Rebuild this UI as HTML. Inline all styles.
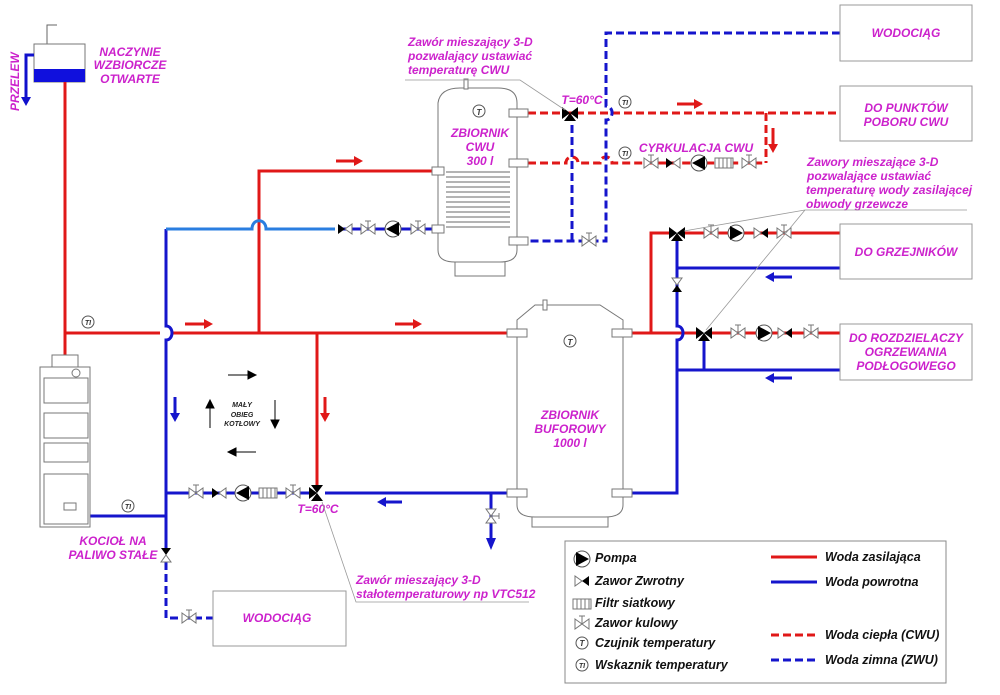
<!DOCTYPE html>
<html><head><meta charset="utf-8"><style>
html,body{margin:0;padding:0;background:#fff;}
svg{display:block;}
text{font-family:"Liberation Sans",sans-serif;font-style:italic;font-weight:bold;}
.m{fill:#cc22cc;font-size:12px;}
.k{fill:#111;font-size:12.5px;}
</style></head><body>
<svg width="1000" height="695" viewBox="0 0 1000 695" xmlns="http://www.w3.org/2000/svg">
<defs>
<g id="bv"><path d="M-7,-5 L7,5 L7,-5 L-7,5 Z" fill="#fff" stroke="#777" stroke-width="1"/><path d="M0,0 V-8 M-3,-8 H3" stroke="#777" stroke-width="1"/></g>
<g id="cvL"><path d="M0,0 L7,-5 V5 Z" fill="#fff" stroke="#777"/><path d="M0,0 L-7,-5 V5 Z" fill="#000"/></g>
<g id="cvR"><path d="M0,0 L-7,-5 V5 Z" fill="#fff" stroke="#777"/><path d="M0,0 L7,-5 V5 Z" fill="#000"/></g>
<g id="pL"><circle r="8" fill="#fff" stroke="#555"/><path d="M-7,0 L6,-7 V7 Z" fill="#000"/></g>
<g id="pR"><circle r="8" fill="#fff" stroke="#555"/><path d="M7,0 L-6,-7 V7 Z" fill="#000"/></g>
<g id="fl"><rect x="-9" y="-5" width="18" height="10" fill="#fff" stroke="#777"/><path d="M-5,-5V5M-1,-5V5M3,-5V5M7,-5V5" stroke="#777"/></g>
<g id="mv"><path d="M-8,-6 L0,0 L-8,6 Z M8,-6 L0,0 L8,6 Z M-6,8 L0,0 L6,8 Z" fill="#000"/></g>
</defs>

<!-- expansion vessel -->
<path d="M47,44 V25 H57" fill="none" stroke="#666" stroke-width="1"/>
<rect x="34" y="44" width="51" height="38" fill="#fff" stroke="#777"/>
<rect x="34" y="69" width="51" height="13" fill="#1010dd"/>
<path d="M34,55 H26 V100" fill="none" stroke="#1010cc" stroke-width="3"/>
<path d="M21,97 L26,106 L31,97 Z" fill="#1010cc"/>
<text class="m" transform="translate(19,111) rotate(-90)">PRZELEW</text>
<text class="m" x="130" y="56" text-anchor="middle">NACZYNIE</text>
<text class="m" x="130" y="69" text-anchor="middle">WZBIORCZE</text>
<text class="m" x="130" y="83" text-anchor="middle">OTWARTE</text>

<!-- main red -->
<g stroke="#e01818" stroke-width="3" fill="none">
<path d="M65,82 V356"/>
<path d="M65,333 H160 M172,333 H508"/>
<path d="M259,333 V171 H433"/>
<path d="M317,333 V488"/>
<path d="M632,333 H697 M712,333 H840"/>
<path d="M651,333 V233 H670 M685,233 H840"/>
</g>
<!-- red arrows -->
<g fill="#e01818">
<path d="M185,324 H205" stroke="#e01818" stroke-width="3"/><path d="M204,319 L213,324 L204,329Z"/>
<path d="M395,324 H414" stroke="#e01818" stroke-width="3"/><path d="M413,319 L422,324 L413,329Z"/>
<path d="M336,161 H355" stroke="#e01818" stroke-width="3"/><path d="M354,156 L363,161 L354,166Z"/>
<path d="M677,104 H695" stroke="#e01818" stroke-width="3"/><path d="M694,99 L703,104 L694,109Z"/>
<path d="M325,397 V414" stroke="#e01818" stroke-width="3"/><path d="M320,413 L325,422 L330,413Z"/>
<path d="M773,128 V145" stroke="#e01818" stroke-width="3"/><path d="M768,144 L773,153 L778,144Z"/>
</g>

<!-- blue solid -->
<g stroke="#1515cc" stroke-width="3" fill="none">
<path d="M166,229 V326 C174,326 174,340 166,340 V550"/>
<path d="M166,229 H252 C252,218 266,218 266,229 H335" stroke="#2a7ee0"/>
<path d="M340,229 H437"/>
<path d="M90,516 H166"/>
<path d="M166,493 H311 M325,493 H508"/>
<path d="M491,493 V545"/>
<path d="M632,493 H677 V340 C685,340 685,326 677,326 V241"/>
<path d="M677,268 H840"/>
<path d="M677,370 H840 M704,340 V370"/>
</g>
<g fill="#1515cc">
<path d="M175,397 V414" stroke="#1515cc" stroke-width="3"/><path d="M170,413 L175,422 L180,413Z"/>
<path d="M491,538 L486,538 L491,550 L496,538Z"/>
<path d="M385,502 H402" stroke="#1515cc" stroke-width="3"/><path d="M386,497 L377,502 L386,507Z"/>
<path d="M773,277 H792" stroke="#1515cc" stroke-width="3"/><path d="M774,272 L765,277 L774,282Z"/>
<path d="M773,378 H792" stroke="#1515cc" stroke-width="3"/><path d="M774,373 L765,378 L774,383Z"/>
</g>

<!-- dashed -->
<g stroke="#e01818" stroke-width="3" fill="none" stroke-dasharray="8,4">
<path d="M528,113 H840"/>
<path d="M766,113 V163"/>
<path d="M528,163 H566 C566,155 578,155 578,163 H600 C600,155 612,155 612,163 H766"/>
</g>
<g stroke="#1515cc" stroke-width="3" fill="none" stroke-dasharray="8,4">
<path d="M840,33 H606 V106 C614,106 614,120 606,120 V241 H528"/>
<path d="M572,241 V118"/>
<path d="M166,562 V618 H213"/>
</g>

<!-- CWU tank -->
<path d="M438,250 V103 Q440,88 460,88 H498 Q517,88 517,103 V250 Q517,262 500,262 H455 Q438,262 438,250 Z" fill="#fff" stroke="#777"/>
<path d="M455,262 V276 H505 V262" fill="none" stroke="#777"/>
<rect x="464" y="79" width="4" height="10" fill="#fff" stroke="#777"/>
<g stroke="#888" fill="none" stroke-width="1.3">
<path d="M446,172 H510 M446,177 H510 M446,182 H510 M446,187 H510 M446,192 H510 M446,197 H510 M446,202 H510 M446,207 H510 M446,212 H510 M446,217 H510 M446,222 H510 M446,227 H510"/>
</g>
<g fill="#fff" stroke="#777">
<rect x="432" y="167" width="12" height="8"/><rect x="432" y="225" width="12" height="8"/>
<rect x="509" y="109" width="19" height="8"/><rect x="509" y="159" width="19" height="8"/><rect x="509" y="237" width="19" height="8"/>
</g>
<circle cx="479" cy="111" r="6" fill="#fff" stroke="#555"/><text x="479" y="115" font-size="8" text-anchor="middle" fill="#333">T</text>
<text class="m" x="480" y="137" text-anchor="middle">ZBIORNIK</text>
<text class="m" x="480" y="151" text-anchor="middle">CWU</text>
<text class="m" x="480" y="165" text-anchor="middle">300 l</text>

<!-- buffer tank -->
<path d="M517,320 L535,305 H600 L623,320 V505 Q623,517 605,517 H535 Q517,517 517,505 Z" fill="#fff" stroke="#777"/>
<path d="M532,517 V527 H608 V517" fill="none" stroke="#777"/>
<rect x="543" y="300" width="4" height="10" fill="#fff" stroke="#777"/>
<g fill="#fff" stroke="#777">
<rect x="507" y="329" width="20" height="8"/><rect x="612" y="329" width="20" height="8"/>
<rect x="507" y="489" width="20" height="8"/><rect x="612" y="489" width="20" height="8"/>
</g>
<circle cx="570" cy="341" r="6" fill="#fff" stroke="#555"/><text x="570" y="345" font-size="8" text-anchor="middle" fill="#333">T</text>
<text class="m" x="570" y="419" text-anchor="middle">ZBIORNIK</text>
<text class="m" x="570" y="433" text-anchor="middle">BUFOROWY</text>
<text class="m" x="570" y="447" text-anchor="middle">1000 l</text>

<!-- boiler -->
<rect x="52" y="355" width="26" height="12" fill="#fff" stroke="#777"/>
<rect x="40" y="367" width="50" height="160" fill="#fff" stroke="#777"/>
<circle cx="76" cy="373" r="4" fill="#fff" stroke="#777"/>
<g fill="none" stroke="#777"><rect x="44" y="378" width="44" height="25"/><rect x="44" y="413" width="44" height="25"/><rect x="44" y="443" width="44" height="19"/><rect x="44" y="474" width="44" height="50"/><rect x="64" y="503" width="12" height="7"/></g>

<!-- valves on lines -->
<use href="#cvL" x="345" y="229"/><use href="#bv" x="368" y="229"/><use href="#pL" x="393" y="229"/><use href="#bv" x="418" y="229"/>
<use href="#mv" x="570" y="113"/>
<use href="#bv" x="651" y="163"/><use href="#cvL" x="673" y="163"/><use href="#pL" x="699" y="163"/><use href="#fl" x="724" y="163"/><use href="#bv" x="749" y="163"/>
<use href="#bv" x="589" y="241"/>
<use href="#mv" x="677" y="233"/><use href="#bv" x="711" y="233"/><use href="#pR" x="736" y="233"/><use href="#cvR" x="761" y="233"/><use href="#bv" x="784" y="233"/>
<g transform="translate(677,285) rotate(90)"><use href="#cvR"/></g>
<use href="#mv" x="704" y="333"/><use href="#bv" x="738" y="333"/><use href="#pR" x="764" y="333"/><use href="#cvR" x="785" y="333"/><use href="#bv" x="811" y="333"/>
<use href="#bv" x="196" y="493"/><use href="#cvL" x="219" y="493"/><use href="#pL" x="243" y="493"/><use href="#fl" x="268" y="493"/><use href="#bv" x="293" y="493"/>
<g transform="translate(317,493) rotate(90)"><use href="#mv"/></g>
<g transform="translate(491,516) rotate(90)"><use href="#bv"/></g>
<g transform="translate(166,555) rotate(90)"><use href="#cvL"/></g>
<use href="#bv" x="189" y="618"/>

<!-- TI indicators -->
<g fill="#fff" stroke="#555">
<circle cx="88" cy="322" r="6"/><circle cx="128" cy="506" r="6"/><circle cx="625" cy="102" r="6"/><circle cx="625" cy="153" r="6"/>
</g>
<g font-size="7" fill="#333" text-anchor="middle"><text x="88" y="325">TI</text><text x="128" y="509">TI</text><text x="625" y="105">TI</text><text x="625" y="156">TI</text></g>

<!-- labels -->
<text class="m" x="582" y="104" text-anchor="middle">T=60°C</text>
<text class="m" x="318" y="513" text-anchor="middle">T=60°C</text>
<text class="m" x="696" y="152" text-anchor="middle">CYRKULACJA CWU</text>
<text class="m" x="408" y="46">Zawór mieszający 3-D</text>
<text class="m" x="408" y="60">pozwalający ustawiać</text>
<text class="m" x="408" y="74">temperaturę CWU</text>
<path d="M405,80 H520 L565,110" fill="none" stroke="#999" stroke-width="0.8"/>
<text class="m" x="807" y="166">Zawory mieszające 3-D</text>
<text class="m" x="807" y="180">pozwalające ustawiać</text>
<text class="m" x="806" y="194">temperaturę wody zasilającej</text>
<text class="m" x="806" y="208">obwody grzewcze</text>
<path d="M967,210 H805 L684,231 M805,210 L706,330" fill="none" stroke="#999" stroke-width="0.8"/>
<text class="m" x="113" y="545" text-anchor="middle">KOCIOŁ NA</text>
<text class="m" x="113" y="559" text-anchor="middle">PALIWO STAŁE</text>
<text class="m" x="356" y="584">Zawór mieszający 3-D</text>
<text class="m" x="356" y="598">stałotemperaturowy np VTC512</text>
<path d="M529,602 H356 L322,502" fill="none" stroke="#999" stroke-width="0.8"/>

<!-- small circuit -->
<g fill="#000" stroke="#000" stroke-width="1">
<path d="M228,375 H249"/><path d="M248,371 L256,375 L248,379Z"/>
<path d="M235,452 H256"/><path d="M236,448 L228,452 L236,456Z"/>
<path d="M210,428 V407"/><path d="M206,408 L210,400 L214,408Z"/>
<path d="M275,400 V421"/><path d="M271,420 L275,428 L279,420Z"/>
</g>
<text x="242" y="407" font-size="7" text-anchor="middle" fill="#222">MAŁY</text>
<text x="242" y="417" font-size="7" text-anchor="middle" fill="#222">OBIEG</text>
<text x="242" y="426" font-size="7" text-anchor="middle" fill="#222">KOTŁOWY</text>

<!-- boxes -->
<g fill="#fff" stroke="#999">
<rect x="840" y="5" width="132" height="56"/><rect x="840" y="86" width="132" height="55"/>
<rect x="840" y="224" width="132" height="55"/><rect x="840" y="324" width="132" height="56"/>
<rect x="213" y="591" width="133" height="55"/>
</g>
<text class="m" x="906" y="37" text-anchor="middle">WODOCIĄG</text>
<text class="m" x="906" y="112" text-anchor="middle">DO PUNKTÓW</text>
<text class="m" x="906" y="126" text-anchor="middle">POBORU CWU</text>
<text class="m" x="906" y="256" text-anchor="middle">DO GRZEJNIKÓW</text>
<text class="m" x="906" y="342" text-anchor="middle">DO ROZDZIELACZY</text>
<text class="m" x="906" y="356" text-anchor="middle">OGRZEWANIA</text>
<text class="m" x="906" y="370" text-anchor="middle">PODŁOGOWEGO</text>
<text class="m" x="277" y="622" text-anchor="middle">WODOCIĄG</text>

<!-- legend -->
<rect x="565" y="541" width="381" height="142" fill="#fff" stroke="#888"/>
<use href="#pR" x="582" y="559"/>
<g transform="translate(582,581)"><path d="M0,0 L-7,-5 V5 Z" fill="#fff" stroke="#777"/><path d="M0,0 L7,-5 V5 Z" fill="#000"/></g>
<use href="#fl" x="582" y="604"/>
<use href="#bv" x="582" y="624"/>
<circle cx="582" cy="643" r="6" fill="#fff" stroke="#555"/><text x="582" y="646" font-size="8" text-anchor="middle" fill="#333">T</text>
<circle cx="582" cy="665" r="6" fill="#fff" stroke="#555"/><text x="582" y="668" font-size="7" text-anchor="middle" fill="#333">TI</text>
<text class="k" x="595" y="562">Pompa</text>
<text class="k" x="595" y="585">Zawor Zwrotny</text>
<text class="k" x="595" y="607">Filtr siatkowy</text>
<text class="k" x="595" y="627">Zawor kulowy</text>
<text class="k" x="595" y="647">Czujnik temperatury</text>
<text class="k" x="595" y="669">Wskaznik temperatury</text>
<path d="M771,557 H817" stroke="#e01818" stroke-width="3"/>
<path d="M771,582 H817" stroke="#1515cc" stroke-width="3"/>
<path d="M771,635 H817" stroke="#e01818" stroke-width="3" stroke-dasharray="8,4"/>
<path d="M771,660 H817" stroke="#1515cc" stroke-width="3" stroke-dasharray="8,4"/>
<text class="k" x="825" y="561">Woda zasilająca</text>
<text class="k" x="825" y="586">Woda powrotna</text>
<text class="k" x="825" y="639">Woda ciepła (CWU)</text>
<text class="k" x="825" y="664">Woda zimna (ZWU)</text>
</svg>
</body></html>
